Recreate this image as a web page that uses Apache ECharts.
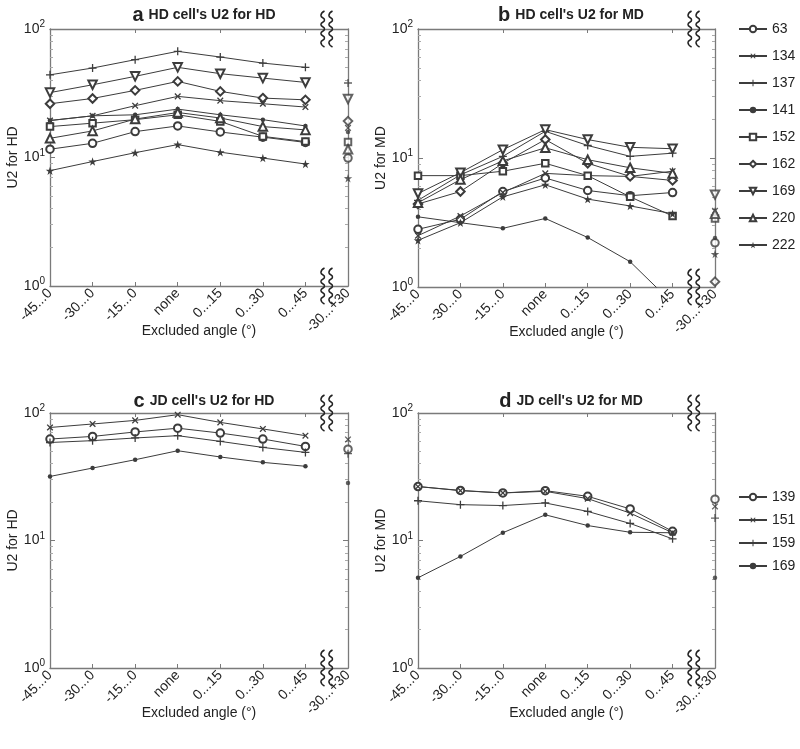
<!DOCTYPE html>
<html><head><meta charset="utf-8">
<script src="https://cdn.jsdelivr.net/npm/echarts@6/dist/echarts.min.js"></script>
<style>html,body{margin:0;padding:0;background:#fff}#c{width:800px;height:749px}</style>
</head><body><div id="c"></div><script>
// ---------- data ----------
const categories = ['-45...0','-30...0','-15...0','none','0...15','0...30','0...45','-30...+30'];
const yTickValues = [1, 10, 100];
const legendAB = ['63','134','137','141','152','162','169','220','222'];
const legendCD = ['139','151','159','169'];

// panel a: HD cell's U2 for HD (first 7 categories) + value at -30...+30
const a63  = [11.6, 12.9, 15.9, 17.6, 15.8, 14.4, 13.1];  const a63R = 9.9;
const a134 = [19.4, 21.1, 25.3, 29.9, 27.7, 26.2, 24.7];  const a134R = 17;
const a137 = [44, 49.7, 57.7, 67, 60.5, 54.3, 50.3];      const a137R = 38;
const a141 = [19.4, 21.1, 21.5, 23.8, 21.5, 19.7, 17.6];  const a141R = 15.8;
const a152 = [17.4, 18.5, 19.7, 21.5, 19.1, 14.6, 13.3];  const a152R = 13.2;
const a162 = [26.2, 28.8, 33.3, 39.1, 32.7, 29, 28.1];    const a162R = 19.2;
const a169 = [32, 36.8, 42.8, 50.3, 44.9, 41.5, 38.4];    const a169R = 28.5;
const a220 = [14.1, 16.1, 19.9, 22.4, 20.3, 17.4, 16.4];  const a220R = 11.6;
const a222 = [7.9, 9.3, 10.9, 12.6, 11, 9.9, 8.9];        const a222R = 6.9;

// panel b: HD cell's U2 for MD
const b63  = [2.8, 3.35, 5.5, 7.0, 5.6, 5.1, 5.4];        const b63R = 2.2;
const b134 = [2.5, 3.55, 5.4, 7.6, 7.3, 7.2, 7.9];        const b134R = 3.9;
const b137 = [4.7, 7.4, 10.3, 16.1, 12.5, 10.3, 10.9];    const b137R = 3.5;
const b141 = [3.5, 3.15, 2.85, 3.4, 2.42, 1.57, 0.75];    const b141R = 2.4;
const b152 = [7.3, 7.3, 7.9, 9.1, 7.3, 5.0, 3.55];        const b152R = 3.4;
const b162 = [4.4, 5.5, 9.1, 13.9, 9.1, 7.2, 6.7];        const b162R = 1.1;
const b169 = [5.3, 7.7, 11.6, 16.6, 13.9, 12.1, 11.8];    const b169R = 5.2;
const b220 = [4.5, 6.8, 9.5, 12.0, 9.7, 8.4, 7.6];        const b220R = 3.7;
const b222 = [2.3, 3.15, 5.0, 6.2, 4.8, 4.25, 3.7];       const b222R = 1.8;

// panel c: JD cell's U2 for HD
const c139 = [62.5, 65.5, 71, 76, 69.6, 62.5, 54.7];      const c139R = 52;
const c151 = [77, 82, 87.5, 97, 84.4, 75, 66.4];          const c151R = 62;
const c159 = [58.7, 60.7, 63.7, 66.4, 59.9, 53.7, 49.1];  const c159R = 48;
const c169 = [31.8, 37, 43, 50.6, 45.2, 41, 38.2];        const c169R = 28.3;

// panel d: JD cell's U2 for MD
const d139 = [26.5, 24.7, 23.6, 24.6, 22.2, 17.7, 11.8];  const d139R = 21.1;
const d151 = [26.5, 24.6, 23.6, 24.3, 21.3, 16.4, 11.5];  const d151R = 18.5;
const d159 = [20.5, 19.1, 18.8, 19.7, 16.9, 13.6, 10.3];  const d159R = 15;
const d169 = [5.1, 7.5, 11.5, 15.9, 13.1, 11.6, 11.5];    const d169R = 5.1;

// ---------- styling ----------
const FONT = 'Liberation Sans, Arial, sans-serif';
const LINE = '#3c3c3c';
const AXIS = '#7a7a7a';
const PLUS = 'path://M4.2,0H5.8V4.2H10V5.8H5.8V10H4.2V5.8H0V4.2H4.2Z';
const STAR = 'path://M50,0L61,35L98,35L68,57L79,91L50,70L21,91L32,57L2,35L39,35Z';
const SYM = {
  circle:  {symbol: 'emptyCircle', size: 7.5, rotate: 0},
  x:       {symbol: PLUS, size: 8, rotate: 45},
  plus:    {symbol: PLUS, size: 8, rotate: 0},
  dot:     {symbol: 'circle', size: 4.5, rotate: 0},
  square:  {symbol: 'emptyRect', size: 6.5, rotate: 0},
  diamond: {symbol: 'emptyDiamond', size: 8.5, rotate: 0},
  down:    {symbol: 'emptyTriangle', size: 8.5, rotate: 180},
  up:      {symbol: 'emptyTriangle', size: 8.5, rotate: 0},
  star:    {symbol: STAR, size: 8.5, rotate: 0}
};

const grids = [
  {left: 50, top: 29, width: 298, height: 257},
  {left: 418, top: 29, width: 297, height: 258},
  {left: 50, top: 413, width: 298, height: 255},
  {left: 418, top: 413, width: 297, height: 255}
];
const yNames = ['U2 for HD', 'U2 for MD', 'U2 for HD', 'U2 for MD'];

const xAxes = [], yAxes = [];
grids.forEach((g, gi) => {
  const axLine = {show: true, lineStyle: {color: AXIS, width: 1.3}};
  xAxes.push({
    gridIndex: gi, type: 'category', data: categories, boundaryGap: false, position: 'bottom',
    axisLine: axLine, axisTick: {show: true, inside: true, length: 4, lineStyle: {color: AXIS}},
    axisLabel: {rotate: 45, interval: 0, fontSize: 14, color: '#222', margin: 5, fontFamily: FONT},
    splitLine: {show: false},
    name: 'Excluded angle (°)', nameLocation: 'middle', nameGap: 38, nameMoveOverlap: false,
    nameTextStyle: {fontSize: 14, color: '#222', fontFamily: FONT}
  });
  xAxes.push({
    gridIndex: gi, type: 'category', data: categories, boundaryGap: false, position: 'top',
    axisLine: axLine, axisTick: {show: true, inside: true, length: 4, lineStyle: {color: AXIS}},
    axisLabel: {show: false}, splitLine: {show: false}
  });
  const yBase = {
    gridIndex: gi, type: 'log', logBase: 10, min: 1, max: 100,
    axisLine: axLine,
    axisTick: {show: true, inside: true, length: 5, lineStyle: {color: AXIS}},
    minorTick: {show: true, splitNumber: 9, length: 3, lineStyle: {color: '#aaa'}},
    splitLine: {show: false}, minorSplitLine: {show: false}
  };
  yAxes.push(Object.assign({}, yBase, {
    position: 'left',
    axisLabel: {
      color: '#222', fontFamily: FONT, margin: 5,
      formatter: v => yTickValues.indexOf(v) >= 0 ? '{b|10}{s|' + Math.round(Math.log10(v)) + '}' : '',
      rich: {b: {fontSize: 14, color: '#222', fontFamily: FONT}, s: {fontSize: 10, color: '#222', fontFamily: FONT, padding: [0, 0, 9, 0]}}
    },
    name: yNames[gi], nameLocation: 'middle', nameGap: 25, nameRotate: 90,
    nameTextStyle: {fontSize: 14, color: '#222', fontFamily: FONT}
  }));
  yAxes.push(Object.assign({}, yBase, {position: 'right', axisLabel: {show: false}}));
});

const series = [];
function addSeries(gi, name, sym, vals, rightVal) {
  const s = SYM[sym];
  series.push({
    type: 'line', name: name, xAxisIndex: gi * 2, yAxisIndex: gi * 2,
    data: vals, symbol: s.symbol, symbolSize: s.size, symbolRotate: s.rotate,
    showAllSymbol: true, clip: true, animation: false,
    lineStyle: {color: LINE, width: 1}, itemStyle: {color: LINE, borderWidth: 1},
    emphasis: {disabled: true}
  });
  series.push({
    type: 'scatter', name: name, xAxisIndex: gi * 2, yAxisIndex: gi * 2,
    data: [[categories[7], rightVal]], symbol: s.symbol, symbolSize: s.size, symbolRotate: s.rotate,
    itemStyle: {color: LINE, borderWidth: 1}, animation: false, clip: true, emphasis: {disabled: true}
  });
}
addSeries(0, '63', 'circle', a63, a63R);
addSeries(0, '134', 'x', a134, a134R);
addSeries(0, '137', 'plus', a137, a137R);
addSeries(0, '141', 'dot', a141, a141R);
addSeries(0, '152', 'square', a152, a152R);
addSeries(0, '162', 'diamond', a162, a162R);
addSeries(0, '169', 'down', a169, a169R);
addSeries(0, '220', 'up', a220, a220R);
addSeries(0, '222', 'star', a222, a222R);

addSeries(1, '63', 'circle', b63, b63R);
addSeries(1, '134', 'x', b134, b134R);
addSeries(1, '137', 'plus', b137, b137R);
addSeries(1, '141', 'dot', b141, b141R);
addSeries(1, '152', 'square', b152, b152R);
addSeries(1, '162', 'diamond', b162, b162R);
addSeries(1, '169', 'down', b169, b169R);
addSeries(1, '220', 'up', b220, b220R);
addSeries(1, '222', 'star', b222, b222R);

addSeries(2, 'JD 139', 'circle', c139, c139R);
addSeries(2, 'JD 151', 'x', c151, c151R);
addSeries(2, 'JD 159', 'plus', c159, c159R);
addSeries(2, 'JD 169', 'dot', c169, c169R);

addSeries(3, 'JD 139', 'circle', d139, d139R);
addSeries(3, 'JD 151', 'x', d151, d151R);
addSeries(3, 'JD 159', 'plus', d159, d159R);
addSeries(3, 'JD 169', 'dot', d169, d169R);

function mkTitle(letter, text, cx, top) {
  return {
    text: '{l|' + letter + '} {t|' + text + '}', left: cx, top: top, textAlign: 'center',
    textStyle: {rich: {
      l: {fontSize: 20, fontWeight: 'bold', color: '#222', fontFamily: FONT},
      t: {fontSize: 14, color: '#222', fontFamily: FONT}
    }}
  };
}

const legendCommon = {
  orient: 'vertical', itemWidth: 28, itemHeight: 8, selectedMode: false,
  textStyle: {fontSize: 14, color: '#222', fontFamily: FONT}
};

const option = {
  backgroundColor: '#fff',
  animation: false,
  textStyle: {fontFamily: FONT},
  title: [
    mkTitle('a', "HD cell's U2 for HD", 199, 0),
    mkTitle('b', "HD cell's U2 for MD", 566, 0),
    mkTitle('c', "JD cell's U2 for HD", 199, 386),
    mkTitle('d', "JD cell's U2 for MD", 566, 386)
  ],
  grid: grids.map(g => Object.assign({containLabel: false}, g)),
  xAxis: xAxes,
  yAxis: yAxes,
  legend: [
    Object.assign({}, legendCommon, {left: 733, top: 17, itemGap: 13, data: legendAB}),
    Object.assign({}, legendCommon, {left: 733, top: 485, itemGap: 9,
      data: legendCD.map(n => 'JD ' + n), formatter: name => name.replace('JD ', '')})
  ],
  series: series
};

const chart = echarts.init(document.getElementById('c'), null, {renderer: 'canvas'});
chart.setOption(option);

// axis-break squiggles (decoration) placed from the axes' own pixel mapping
const graphics = [];
function squiggle(cx, cy) {
  const pts = [];
  const n = 8, h = 36;
  for (let i = 0; i <= n; i++) {
    pts.push([cx + (i % 2 === 0 ? 1.8 : -1.8), cy - h / 2 + i * h / n]);
  }
  return {type: 'polyline', shape: {points: pts, smooth: 0.6}, style: {stroke: '#222', lineWidth: 1.5, fill: null}, z: 100};
}
grids.forEach((g, gi) => {
  const x6 = chart.convertToPixel({xAxisIndex: gi * 2}, categories[6]);
  const x7 = chart.convertToPixel({xAxisIndex: gi * 2}, categories[7]);
  const bx = x6 + (x7 - x6) * 0.5;
  const yTop = chart.convertToPixel({yAxisIndex: gi * 2}, 100);
  const yBot = chart.convertToPixel({yAxisIndex: gi * 2}, 1);
  [yTop, yBot].forEach(cy => {
    graphics.push(squiggle(bx - 4, cy));
    graphics.push(squiggle(bx + 4, cy));
  });
});
chart.setOption({graphic: graphics});
</script></body></html>
